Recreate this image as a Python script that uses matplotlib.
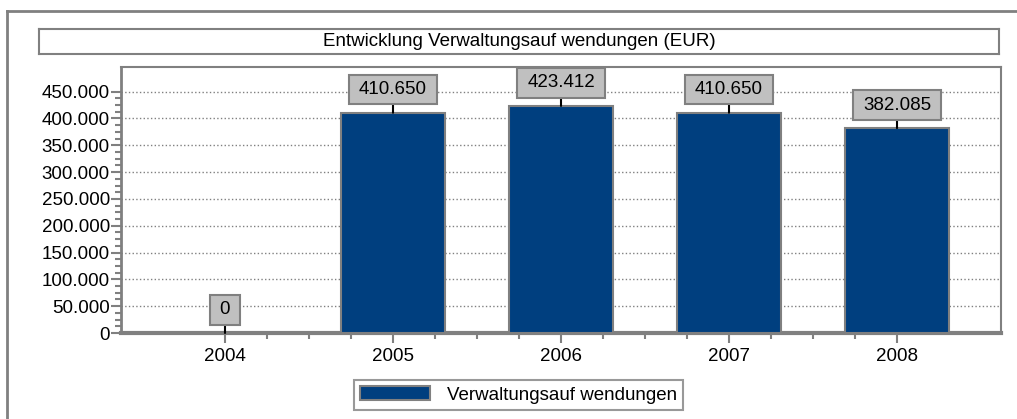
import matplotlib
matplotlib.use("Agg")
import numpy as np
import matplotlib.pyplot as plt
from matplotlib.path import Path
from matplotlib.lines import Line2D
from matplotlib.ticker import FuncFormatter, MultipleLocator, FixedLocator

# data
years = ['2004', '2005', '2006', '2007', '2008']
values = [0, 410650, 423412, 410650, 382085]
series_name = 'Verwaltungsauf wendungen'
title = 'Entwicklung Verwaltungsauf wendungen (EUR)'

plt.rcParams['font.family'] = ['Liberation Sans', 'DejaVu Sans']
size = 13.5
gray = '#808080'
blue = '#003F7F'


def de_fmt(v, pos=None):
    return '{:,.0f}'.format(v).replace(',', '.')


def label_box(x0, y0, width, height, mutation_size):
    # wider box than the standard square style
    px = 0.53 * mutation_size
    py = 0.33 * mutation_size
    x0, y0 = x0 - px, y0 - py
    x1, y1 = x0 + width + 2 * px, y0 + height + 2 * py
    return Path([(x0, y0), (x1, y0), (x1, y1), (x0, y1), (x0, y0)], closed=True)


fig = plt.figure(figsize=(10.17, 4.19), dpi=100)

# outer frame (left and top only)
fig.add_artist(Line2D([7 / 1017, 7 / 1017], [0, 1 - 11 / 419], transform=fig.transFigure,
                      color=gray, lw=2))
fig.add_artist(Line2D([7 / 1017, 1], [1 - 11 / 419, 1 - 11 / 419], transform=fig.transFigure,
                      color=gray, lw=2))

# title box
tax = fig.add_axes([39 / 1017, 1 - 54 / 419, 960 / 1017, 25 / 419])
tax.set_xticks([])
tax.set_yticks([])
for s in tax.spines.values():
    s.set_color(gray)
    s.set_linewidth(1.5)
tax.text(0.5, 0.5, title, ha='center', va='center', fontsize=size, transform=tax.transAxes)

ax = fig.add_axes([121 / 1017, 1 - 333 / 419, 880 / 1017, 266 / 419])
x = range(len(years))
bars = ax.bar(x, values, width=0.615, color=blue, edgecolor=gray, linewidth=1.5,
              label=series_name, zorder=3)

for xi, v in zip(x, values):
    ax.annotate(de_fmt(v), xy=(xi, v), xytext=(0, 23), textcoords='offset pixels',
                ha='center', va='center', fontsize=size, zorder=5,
                bbox=dict(boxstyle=label_box, fc='#C0C0C0', ec=gray, lw=1.5),
                arrowprops=dict(arrowstyle='-', color='black', lw=1.5, shrinkA=0, shrinkB=0))

ax.set_xlim(-0.619, 4.619)
ax.set_xticks(list(x))
ax.set_xticklabels(years)
ax.xaxis.set_minor_locator(FixedLocator(np.arange(0, 4.01, 0.25)))
ax.yaxis.set_major_locator(MultipleLocator(50000))
ax.yaxis.set_minor_locator(FixedLocator(np.arange(0, 450001, 12500)))
ax.yaxis.set_major_formatter(FuncFormatter(de_fmt))
ax.set_ylim(0, 496000)

ax.tick_params(axis='both', which='major', labelsize=size, color=gray, width=1.5, length=7)
ax.tick_params(axis='both', which='minor', color=gray, width=1.5, length=4)
ax.tick_params(axis='y', which='major', pad=1)
ax.tick_params(axis='x', which='major', pad=4)

ax.yaxis.grid(True, which='major', linestyle=':', color=gray, linewidth=1, zorder=0)
ax.set_axisbelow(True)

for name, s in ax.spines.items():
    s.set_color(gray)
    s.set_linewidth(1.5)
ax.spines['bottom'].set_linewidth(3)
ax.spines['left'].set_linewidth(2)

leg = fig.legend(handles=[bars], labels=[series_name], loc='center',
                 bbox_to_anchor=(518.5 / 1017, 1 - 395 / 419), fontsize=size,
                 fancybox=False, handlelength=3.7, handleheight=0.75,
                 handletextpad=0.9, borderpad=0.35, borderaxespad=0)
leg.get_frame().set_edgecolor(gray)
leg.get_frame().set_linewidth(1.5)

fig.savefig('out.png', dpi=100)
